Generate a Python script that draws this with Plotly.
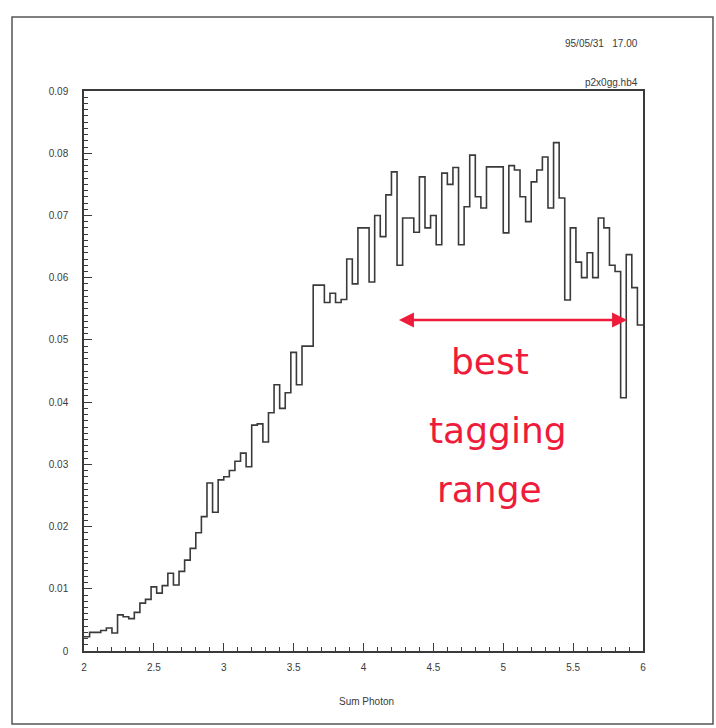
import numpy as np
import plotly.graph_objects as go

# Histogram: 100 bins from 2 to 6 (Sum Photon)
x_min, x_max, n_bins = 2.0, 6.0, 100
values = [
    0.0023, 0.0030, 0.0030, 0.0033, 0.0037, 0.0029, 0.0058, 0.0055, 0.0052, 0.0062,
    0.0077, 0.0083, 0.0103, 0.0093, 0.0105, 0.0125, 0.0106, 0.0128, 0.0146, 0.0165,
    0.0190, 0.0216, 0.0270, 0.0223, 0.0275, 0.0280, 0.0290, 0.0305, 0.0318, 0.0296,
    0.0363, 0.0365, 0.0336, 0.0383, 0.0428, 0.0390, 0.0415, 0.0480, 0.0428, 0.0490,
    0.0490, 0.0588, 0.0588, 0.0560, 0.0575, 0.0560, 0.0565, 0.0630, 0.0590, 0.0680,
    0.0680, 0.0593, 0.0700, 0.0666, 0.0733, 0.0770, 0.0620, 0.0696, 0.0696, 0.0673,
    0.0762, 0.0680, 0.0700, 0.0653, 0.0768, 0.0750, 0.0777, 0.0653, 0.0714, 0.0797,
    0.0730, 0.0712, 0.0778, 0.0778, 0.0778, 0.0672, 0.0780, 0.0773, 0.0730, 0.0690,
    0.0754, 0.0773, 0.0794, 0.0712, 0.0817, 0.0728, 0.0564, 0.0680, 0.0625, 0.0600,
    0.0640, 0.0600, 0.0696, 0.0680, 0.0620, 0.0610, 0.0407, 0.0637, 0.0584, 0.0524,
]

y_tick_vals = [0, 0.01, 0.02, 0.03, 0.04, 0.05, 0.06, 0.07, 0.08, 0.09]
y_tick_text = ["0", "0.01", "0.02", "0.03", "0.04", "0.05", "0.06", "0.07", "0.08", "0.09"]
x_tick_vals = [2, 2.5, 3, 3.5, 4, 4.5, 5, 5.5, 6]
x_tick_text = ["2", "2.5", "3", "3.5", "4", "4.5", "5", "5.5", "6"]

arrow_range = [4.243, 5.886]
arrow_y = 0.0532
note_lines = ["best", "tagging", "range"]
note_x = [4.905, 4.96, 4.905]
note_y = [0.0465, 0.0355, 0.0259]

edges = np.linspace(x_min, x_max, n_bins + 1)
step_y = list(values) + [values[-1]]

ink = "#3a3a3a"
red = "#ee1c3a"
font_main = "Liberation Sans, Arial, sans-serif"

fig = go.Figure()
fig.add_trace(go.Scatter(
    x=edges, y=step_y, mode="lines", line=dict(shape="hv", color=ink, width=1.6),
    hoverinfo="skip", showlegend=False,
))

fig.update_layout(
    width=716, height=728,
    margin=dict(l=84, r=73, t=91, b=77),
    paper_bgcolor="white", plot_bgcolor="white",
    font=dict(family=font_main, size=10, color=ink),
    showlegend=False,
)
fig.update_xaxes(
    range=[x_min, x_max], tickvals=x_tick_vals, ticktext=x_tick_text,
    ticks="inside", ticklen=8, tickwidth=1, tickcolor=ink,
    minor=dict(dtick=0.1, ticks="inside", ticklen=4, tickcolor=ink),
    showgrid=False, zeroline=False, showline=True, linecolor=ink, linewidth=1.5,
    mirror=True, ticklabelstandoff=6, tickfont=dict(size=10, color=ink),
)
fig.update_yaxes(
    range=[0, 0.09], tickvals=y_tick_vals, ticktext=y_tick_text,
    ticks="inside", ticklen=8, tickwidth=1, tickcolor=ink,
    minor=dict(dtick=0.001, ticks="inside", ticklen=4, tickcolor=ink),
    showgrid=False, zeroline=False, showline=True, linecolor=ink, linewidth=1.5,
    mirror=True, ticklabelstandoff=12, tickfont=dict(size=10, color=ink),
)

# outer page frame
fig.add_shape(type="rect", xref="paper", yref="paper",
              x0=-0.1288, x1=1.1252, y0=-0.1304, y1=1.1321,
              line=dict(color="#555555", width=1.5))

fig.add_annotation(xref="paper", yref="paper", x=0.9946, y=1.084,
                   text="95/05/31&nbsp;&nbsp;&nbsp;17.00", showarrow=False,
                   xanchor="right", yanchor="middle", font=dict(size=10, color=ink))
fig.add_annotation(xref="paper", yref="paper", x=0.9946, y=1.0,
                   text="p2x0gg.hb4", showarrow=False,
                   xanchor="right", yanchor="bottom", yshift=1, font=dict(size=10, color=ink))
fig.add_annotation(xref="paper", yref="paper", x=0.5045, y=-0.091,
                   text="Sum Photon", showarrow=False,
                   xanchor="center", yanchor="middle", font=dict(size=10, color=ink))

# red double arrow
fig.add_annotation(x=arrow_range[1], y=arrow_y, ax=arrow_range[0], ay=arrow_y,
                   xref="x", yref="y", axref="x", ayref="y", text="",
                   showarrow=True, arrowhead=2, startarrowhead=2, arrowside="end+start",
                   arrowsize=1.2, startarrowsize=1.2, arrowwidth=2.5, arrowcolor=red)

for t, xx, yy in zip(note_lines, note_x, note_y):
    fig.add_annotation(x=xx, y=yy, xref="x", yref="y", text=t, showarrow=False,
                       xanchor="center", yanchor="middle",
                       font=dict(family="DejaVu Sans, sans-serif", size=36, color=red))

fig.write_html("out.html")
